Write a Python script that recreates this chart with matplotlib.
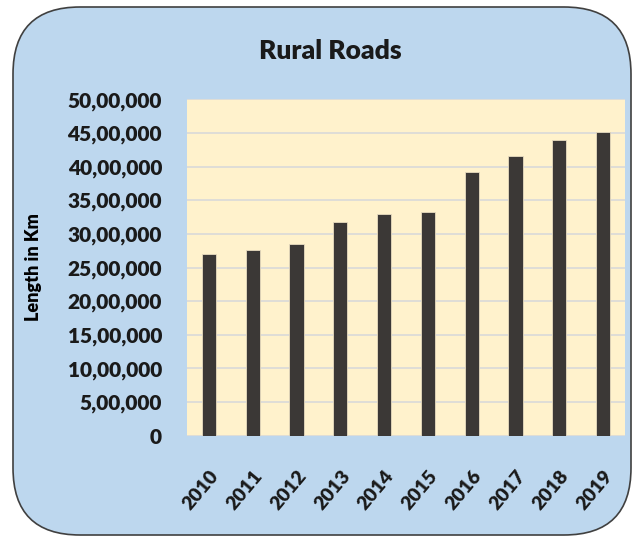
import matplotlib.pyplot as plt
from matplotlib.patches import FancyBboxPatch
from matplotlib.ticker import FuncFormatter

# data
years = ['2010', '2011', '2012', '2013', '2014', '2015', '2016', '2017', '2018', '2019']
length_km = [2696000, 2756000, 2845000, 3172000, 3291000, 3320000, 3924000, 4157000, 4400000, 4518000]
y_ticks = [0, 500000, 1000000, 1500000, 2000000, 2500000, 3000000, 3500000, 4000000, 4500000, 5000000]

W, H = 632, 537
fig = plt.figure(figsize=(W / 100, H / 100), dpi=100)
fig.patch.set_facecolor('white')

# rounded blue frame (in inches via dpi_scale_trans)
frame = FancyBboxPatch((13 / 100, (H - 535) / 100), (631 - 13) / 100, (535 - 7) / 100,
                       boxstyle='round,pad=0,rounding_size=0.67',
                       facecolor='#bdd7ee', edgecolor='#404040', linewidth=1.2,
                       transform=fig.dpi_scale_trans, zorder=0)
fig.add_artist(frame)


def indian_fmt(v, pos=None):
    v = int(round(v))
    if v == 0:
        return '0'
    s = str(v)
    last3 = s[-3:]
    rest = s[:-3]
    parts = []
    while len(rest) > 2:
        parts.insert(0, rest[-2:])
        rest = rest[:-2]
    if rest:
        parts.insert(0, rest)
    return ','.join(parts + [last3])


font = 'Lato'

ax = fig.add_axes([187 / W, (H - 435.7) / H, 438 / W, 336.4 / H])
ax.set_facecolor('#fff2cc')
ax.bar(range(len(years)), length_km, width=0.32, color='#3b3836',
       edgecolor='#e8dcc0', linewidth=0.6, zorder=3)
ax.set_xlim(-0.5, len(years) - 0.5)
ax.set_ylim(0, 5000000)
ax.set_yticks(y_ticks)
ax.yaxis.set_major_formatter(FuncFormatter(indian_fmt))
ax.grid(axis='y', color='#d9d9d9', linewidth=1.2, zorder=1)
ax.set_xticks(range(len(years)))
ax.set_xticklabels(years, rotation=50, ha='right', rotation_mode='anchor',
                   fontsize=14, fontweight='heavy', family=font)
for lab in ax.get_yticklabels():
    lab.set_fontsize(15)
    lab.set_fontweight('heavy')
    lab.set_family(font)
ax.tick_params(axis='both', length=0, colors='#1a1a1a')
ax.tick_params(axis='y', pad=18)
ax.tick_params(axis='x', pad=23)
for sp in ax.spines.values():
    sp.set_visible(False)

ax.set_ylabel('Length in Km', fontsize=13, fontweight='heavy', family=font, labelpad=18)
fig.text(330 / W, 1 - 51 / H, 'Rural Roads', ha='center', va='center',
         fontsize=19, fontweight='heavy', family=font, color='#1a1a1a')

fig.savefig('out.png', dpi=100, facecolor='white')
